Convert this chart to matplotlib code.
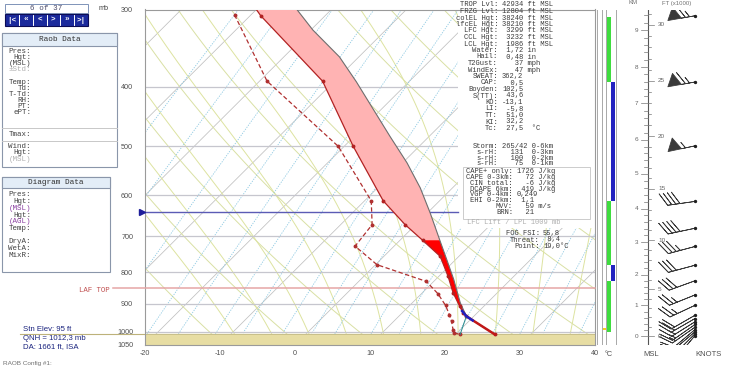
import numpy as np
import matplotlib.pyplot as plt
from matplotlib.patches import Rectangle
from matplotlib.lines import Line2D
from matplotlib.transforms import Affine2D
from matplotlib.ticker import NullLocator

plt.rcParams['font.family'] = ['Liberation Sans', 'DejaVu Sans']
MONO = ['Liberation Mono', 'DejaVu Sans Mono']

# ---------------- sounding data (mb, deg C) ----------------
TEMP_P = [300, 307, 392, 500, 613, 670, 710, 754, 812, 864, 909, 931, 943, 1009]
TEMP_C = [-50.0, -48.6, -31.6, -18.8, -7.5, -1.4, 3.0, 7.5, 11.2, 14.1, 16.8, 18.1, 19.0, 25.2]

DEWP_P = [306, 392, 500, 613, 670, 726, 778, 828, 867, 906, 937, 961, 991, 1004, 1009]
DEWP_C = [-52.2, -39.0, -20.8, -9.1, -5.8, -5.2, 0.2, 9.0, 12.2, 14.8, 16.5, 17.7, 19.0, 19.6, 20.6]

PARCEL_P = [300, 324, 358, 393, 436, 482, 532, 584, 641, 710, 763, 822, 897, 943]
PARCEL_C = [-44.6, -39.7, -32.6, -27.0, -21.0, -15.2, -9.4, -4.3, 0.35, 5.3, 8.8, 12.4, 16.4, 19.0]

SFC_P = 1009
LCL_P = 943
FRZG_P = 638
LAF_TOP_P = 850

ISOBARS = [400, 500, 600, 700, 800, 900, 1000]
P_TICKS = [300, 400, 500, 600, 700, 800, 900, 1000, 1050]
T_TICKS = [-20, -10, 0, 10, 20, 30, 40]

ISOTHERMS = list(range(-110, 50, 10))
THETA_K = list(range(250, 480, 10))
THETA_W = [-10, -5, 0, 5, 10, 15, 20, 25, 30, 35]
MIXR = [0.1, 0.2, 0.4, 0.7, 1, 1.5, 2, 3, 4, 5, 7, 9, 12, 15, 20, 25, 30, 40]

# layer column at right of diagram
LAYER_TOP = [308, 393, 614, 778, 828]
LAYER_BOT = [393, 614, 778, 828, 1002]
LAYER_COL = ['#3fdc3f', '#2323c0', '#3fdc3f', '#2323c0', '#3fdc3f']

# height scale: km marks vs pressure
KM_MARKS = [0, 1, 2, 3, 4, 5, 6, 7, 8, 9]
KM_P = [1016, 906, 807, 715, 631, 554, 488, 426, 372, 324]

# winds
WIND_KFT = [30.8, 24.9, 19.1, 13.8, 11.2, 9.4, 7.5, 5.9, 4.4, 3.3,
            2.24, 1.89, 1.54, 1.25, 0.96, 0.71, 0.47, 0.26, 0.07]
WIND_DIR = [260, 260, 258, 262, 258, 255, 255, 250, 248, 245,
            240, 240, 238, 235, 235, 230, 230, 225, 220]
WIND_KT = [65, 65, 55, 40, 40, 35, 30, 30, 25, 25,
           20, 20, 15, 15, 15, 10, 10, 10, 5]

INDEX_ROWS = [("TROP Lvl:", "42934 ft MSL"), ("FRZG Lvl:", "12804 ft MSL"),
              ("colEL Hgt:", "38240 ft MSL"), ("lfcEL Hgt:", "38210 ft MSL"),
              ("LFC Hgt:", " 3299 ft MSL"), ("CCL Hgt:", " 3232 ft MSL"),
              ("LCL Hgt:", " 1986 ft MSL"), ("Water:", " 1,72 in"),
              ("Hail:", " 0,48 in"), ("T2Gust:", "   37 mph"),
              ("WindEx:", "   47 mph"), ("SWEAT:", "362,2"), ("CAP:", "  0,5"),
              ("Boyden:", "102,5"), ("S(TT):", " 43,6"), ("KO:", "-13,1"),
              ("LI:", " -5,8"), ("TT:", " 51,0"), ("KI:", " 32,2"),
              ("Tc:", " 27,5  \u00b0C")]
STORM_ROWS = [("Storm:", "265/42 0-6km"), ("s-rH:", "  131  0-3km"),
              ("s-rH:", "  100  0-2km"), ("s-rH:", "   75  0-1km")]
CAPE_ROWS = [("CAPE+ only:", "1726 J/kg"), ("CAPE 0-3km:", "  72 J/kg"),
             ("CIN total:", "  -6 J/kg"), ("DCAPE 6km:", " 419 J/kg"),
             ("VGP 0-4km:", "0,249"), ("EHI 0-2km:", " 1,1"),
             ("MVV:", "  59 m/s"), ("BRN:", "  21")]
FOG_ROWS = [("FOG FSI:", "55,8"), ("Threat:", " 8,4"), ("Point:", "19,0\u00b0C")]

RAOB_LABELS = ["Pres:", "Hgt:", "(MSL)", "\u00b1Std:", "Temp:", "Td:", "T-Td:",
               "RH:", "PT:", "ePT:"]
RAOB_ROW_Y = [51.7, 57.7, 63.7, 69.7, 82.0, 88.0, 94.0, 100.0, 106.0, 112.0]
DIAG_LABELS = ["Pres:", "Hgt:", "(MSL)", "Hgt:", "(AGL)", "Temp:", "", "DryA:",
               "WetA:", "MixR:"]

# ---------------- figure ----------------
W, H = 732, 370
fig = plt.figure(figsize=(W / 100, H / 100), dpi=100)
pix = Affine2D().scale(1.0 / W, -1.0 / H).translate(0, 1) + fig.transFigure

SKEW = 35.8
P_BOT = 1050.0


def skew(t, p):
    return np.asarray(t, float) + SKEW * np.log(P_BOT / np.asarray(p, float))


def px_axes(x0, y0, x1, y1):
    return fig.add_axes([x0 / W, 1 - y1 / H, (x1 - x0) / W, (y1 - y0) / H])


def moist(t0, plev):
    T = t0 + 273.15
    out = [T]
    for p0, p1 in zip(plev[:-1], plev[1:]):
        es = 6.112 * np.exp(17.67 * (T - 273.15) / (T - 29.65))
        rs = 0.622 * es / (p0 - es)
        dtdp = (287.0 * T + 2.5e6 * rs) / (1004.0 + 2.5e6 ** 2 * rs * 0.622 / (287.0 * T * T)) / p0
        T = T + dtdp * (p1 - p0)
        out.append(T)
    return np.array(out) - 273.15


ax = px_axes(145, 9.5, 595, 345)
ax.set_yscale('log')
ax.set_xlim(-20, 40)
ax.set_ylim(1050, 300)

pp = np.geomspace(300, 1050, 80)
for t in ISOTHERMS:
    ax.plot(skew([t, t], [300, 1050]), [300, 1050], color='#c0c0c0', lw=0.55, zorder=1)
for th in THETA_K:
    ax.plot(skew(th * (pp / 1000.0) ** 0.2857 - 273.15, pp), pp, color='#d9e0a4', lw=0.7, zorder=1)
up = np.arange(1000, 295, -5.0)
dn = np.arange(1000, 1055, 5.0)
for tw in THETA_W:
    ax.plot(skew(moist(tw, up), up), up, color='#dde3a0', lw=0.7, zorder=1)
    ax.plot(skew(moist(tw, dn), dn), dn, color='#dde3a0', lw=0.7, zorder=1)
for w in MIXR:
    e = w * pp / (622.0 + w)
    le = np.log(e / 6.112)
    td = 243.5 * le / (17.67 - le)
    ax.plot(skew(td, pp), pp, color='#8ec9e2', lw=0.6, ls=(0, (1.5, 1.5)), zorder=1)

for p in ISOBARS:
    ax.axhline(p, color='#c6c6ce', lw=0.9, zorder=1.5)

# ground
ax.axhspan(SFC_P, 1050, color='#e7dda3', zorder=2)
ax.axhline(SFC_P, color='#c9c08a', lw=0.7, zorder=2)
ax.plot([(20 - 295) / 7.5, -20], [SFC_P, SFC_P], color='#bdb27a', lw=0.8, clip_on=False)

# white panel behind index text
ax.add_patch(Rectangle((458, 9.5), 137, 218.5, transform=pix, fc='white', ec='none', zorder=2.5))

# special lines
ax.plot([-20, (458 - 295) / 7.5], [FRZG_P, FRZG_P], color='#5b5bb5', lw=1.0, zorder=2.6)
ax.plot([-20.35], [FRZG_P], marker='>', ms=3.8, color='#1e1e9a', clip_on=False, zorder=6)
ax.plot([(113 - 295) / 7.5, 40], [LAF_TOP_P, LAF_TOP_P], color='#e5a5a5', lw=1.1,
        clip_on=False, zorder=2.6)

# CAPE shading
tp = np.array(TEMP_P, float)
tc = np.array(TEMP_C, float)
pp_ = np.array(PARCEL_P, float)
pc = np.array(PARCEL_C, float)
m_env = tp <= 710
m_par = pp_ <= 710
ax.fill(np.concatenate([skew(tc[m_env], tp[m_env]), skew(pc[m_par], pp_[m_par])[::-1]]),
        np.concatenate([tp[m_env], pp_[m_par][::-1]]), color='#ffb3b3', lw=0, zorder=3)
m_env = (tp >= 710) & (tp <= LCL_P)
m_par = (pp_ >= 710) & (pp_ <= LCL_P)
ax.fill(np.concatenate([skew(tc[m_env], tp[m_env]), skew(pc[m_par], pp_[m_par])[::-1]]),
        np.concatenate([tp[m_env], pp_[m_par][::-1]]), color='#ff0000', lw=0, zorder=3)
ax.plot(skew(pc, pp_), pp_, color='#6e6e6e', lw=0.8, zorder=3.5)

# traces
ax.plot(skew(tc, tp), tp, color='#b22222', lw=0.9, zorder=4)
ax.plot(skew(tc[1:], tp[1:]), tp[1:], 'o', color='#b22222', ms=1.8, zorder=4)
m_bl = tp >= LCL_P
ax.plot(skew(tc[m_bl], tp[m_bl]), tp[m_bl], color='#c01818', lw=1.8, zorder=4.2)
dp = np.array(DEWP_P, float)
dc = np.array(DEWP_C, float)
ax.plot(skew(dc, dp), dp, color='#b03030', lw=0.9, ls=(0, (3.5, 2)), zorder=4)
ax.plot(skew(dc, dp), dp, 'o', color='#b03030', ms=1.8, zorder=4)
ax.plot(skew([DEWP_C[-1], TEMP_C[TEMP_P.index(LCL_P)]], [SFC_P, LCL_P]), [SFC_P, LCL_P],
        color='#2a8a8a', lw=0.7, zorder=4.3)
ax.plot(skew(np.interp([925, 943, 958], tp, tc), [925, 943, 958]), [925, 943, 958],
        color='#2020c0', lw=1.8, zorder=4.4)

ax.set_yticks(P_TICKS)
ax.set_yticklabels([str(p) for p in P_TICKS])
ax.yaxis.set_minor_locator(NullLocator())
ax.set_xticks(T_TICKS)
ax.set_xticklabels([str(t) for t in T_TICKS])
ax.tick_params(axis='y', length=0, pad=8.5, labelsize=5.2, labelcolor='#505050')
ax.tick_params(axis='x', length=0, pad=3.5, labelsize=5.2, labelcolor='#505050')
for s in ax.spines.values():
    s.set_color('#9a9a9a')
    s.set_linewidth(0.8)

# ---------------- right layer column ----------------
ax_s = px_axes(595, 9.5, 617, 345)
ax_s.set_yscale('log')
ax_s.set_ylim(1050, 300)
ax_s.set_xlim(595, 617)
ax_s.axis('off')
for x in [596.5, 601.5, 606.0, 616.0]:
    ax_s.axvline(x, color='#a8a8a8', lw=0.7)
for top, bot, col in zip(LAYER_TOP, LAYER_BOT, LAYER_COL):
    x0 = 606.5 if col != '#2323c0' else 610.5
    ax_s.bar(x0 + 2.0, bot - top, bottom=top, width=4.0, color=col, lw=0)
ax_s.bar(604.0, 8, bottom=985, width=3.5, color='#f2d020', lw=0)

# ---------------- height scale and winds ----------------
def km_to_p(km):
    km = np.asarray(km, float)
    lp = np.log(KM_P)
    out = np.interp(km, KM_MARKS, lp)
    slope = (lp[-1] - lp[-2]) / (KM_MARKS[-1] - KM_MARKS[-2])
    out = np.where(km > KM_MARKS[-1], lp[-1] + slope * (km - KM_MARKS[-1]), out)
    return np.exp(out)


ax_h = px_axes(617, 9.5, 732, 345)
ax_h.set_yscale('log')
ax_h.set_ylim(1050, 300)
ax_h.set_xlim(617, 732)
ax_h.axis('off')
ax_h.axvline(648, color='#555555', lw=0.8)
for km in np.arange(0, 9.41, 0.2):
    p = km_to_p(km)
    major = abs(km - round(km)) < 1e-6
    ax_h.plot([641 if major else 644, 648], [p, p], color='#777777', lw=0.5)
    if major:
        ax_h.text(638.5, p, str(int(round(km))), ha='right', va='center', fontsize=4.6,
                  color='#666666')
for kft in range(0, 32):
    p = km_to_p(kft * 0.3048)
    ax_h.plot([648, 654 if kft % 5 == 0 else 651], [p, p], color='#777777', lw=0.5)
    if kft % 5 == 0:
        ax_h.text(658, p, str(kft), ha='left', va='center', fontsize=4.6, color='#666666')

wp = km_to_p(np.array(WIND_KFT) * 0.3048)
wd = np.radians(WIND_DIR)
ws = np.array(WIND_KT, float)
ax_h.barbs(np.full(len(wp), 695.0), wp, -ws * np.sin(wd), -ws * np.cos(wd), length=6.3,
           pivot='tip', color='#3a3a3a', linewidth=0.55,
           sizes=dict(spacing=0.15, height=0.45, width=0.5, emptybarb=0.0))
ax_h.plot(np.full(len(wp), 695.0), wp, 'o', color='#202020', ms=1.4)

# ---------------- labels around ----------------
def ptext(x, y, s, **kw):
    kw.setdefault('va', 'center')
    fig.text(x, y, s, transform=pix, **kw)


ptext(104, 9, "mb", ha='center', fontsize=5.2, color='#404040')
ptext(609, 354, "\u00b0C", ha='center', fontsize=5.2, color='#505050')
ptext(651, 354, "MSL", ha='center', fontsize=5.5, color='#505050')
ptext(709, 354, "KNOTS", ha='center', fontsize=5.5, color='#505050')
ptext(633, 3, "KM", ha='center', fontsize=4.3, color='#707070')
ptext(677, 3, "FT (x1000)", ha='center', fontsize=4.3, color='#707070')
ptext(110, 290, "LAF TOP", ha='right', fontsize=5.3, color='#c05050', family=MONO)
ptext(23, 329.5, "Stn Elev: 95 ft", ha='left', fontsize=5.6, color='#1a237e')
ptext(23, 338.5, "QNH = 1012,3 mb", ha='left', fontsize=5.6, color='#1a237e')
ptext(23, 346.5, "DA: 1661 ft, ISA", ha='left', fontsize=5.6, color='#1a237e')
ptext(3, 364, "RAOB Config #1:", ha='left', fontsize=4.6, color='#707070')

# index text block
TXT = '#3a3a3a'
for i, (lab, val) in enumerate(INDEX_ROWS):
    y = 5 + i * 6.5
    ptext(498, y, lab, ha='right', fontsize=5.1, color=TXT, family=MONO)
    ptext(502, y, val, ha='left', fontsize=5.1, color=TXT, family=MONO)
for i, (lab, val) in enumerate(STORM_ROWS):
    y = 146.7 + i * 5.7
    ptext(498, y, lab, ha='right', fontsize=5.1, color=TXT, family=MONO)
    ptext(502, y, val, ha='left', fontsize=5.1, color=TXT, family=MONO)
fig.add_artist(Rectangle((463, 166.5), 127, 52, transform=pix, fc='none', ec='#cccccc', lw=0.7))
for i, (lab, val) in enumerate(CAPE_ROWS):
    y = 171.5 + i * 5.85
    ptext(513, y, lab, ha='right', fontsize=5.1, color=TXT, family=MONO)
    ptext(517, y, val, ha='left', fontsize=5.1, color=TXT, family=MONO)
ptext(467, 223, "LFC Lift / LPL 1009 mb", ha='left', fontsize=5.1, color='#b0b0b0', family=MONO)
for i, (lab, val) in enumerate(FOG_ROWS):
    y = 233.3 + i * 6.7
    ptext(540, y, lab, ha='right', fontsize=5.1, color=TXT, family=MONO)
    ptext(543, y, val, ha='left', fontsize=5.1, color=TXT, family=MONO)

# ---------------- left panels ----------------
fig.add_artist(Rectangle((5, 4), 83, 9, transform=pix, fc='white', ec='#7f93b8', lw=0.7))
ptext(46.5, 8.5, "6 of 37", ha='center', fontsize=5.5, color='#4a4a6a', family=MONO)
nav = ['|<', '\u00ab', '<', '>', '\u00bb', '>|']
bw = 83 / len(nav)
for i, s in enumerate(nav):
    fig.add_artist(Rectangle((5 + i * bw, 14), bw, 12, transform=pix, fc='#1b2a9c',
                             ec='white', lw=0.7))
    ptext(5 + (i + 0.5) * bw, 20, s, ha='center', fontsize=5.5, color='white',
          fontweight='bold', family=MONO)
fig.add_artist(Rectangle((5, 14), 83, 12, transform=pix, fc='none', ec='#0b0b55', lw=0.8))

# Raob Data
fig.add_artist(Rectangle((2, 33), 115, 133.5, transform=pix, fc='white', ec='#8a96aa', lw=0.8))
fig.add_artist(Rectangle((2, 33), 115, 13, transform=pix, fc='#e3edf7', ec='#8a96aa', lw=0.8))
ptext(59.5, 39.8, "Raob Data", ha='center', fontsize=5.6, color='#303030', family=MONO)
for lab, y in zip(RAOB_LABELS, RAOB_ROW_Y):
    col = '#b0b0b0' if lab.startswith('\u00b1') else '#404040'
    ptext(31, y, lab, ha='right', fontsize=5.4, color=col, family=MONO)
for y in [127.7, 140.5]:
    fig.add_artist(Line2D([2, 117], [y, y], transform=pix, color='#c8c8c8', lw=0.7))
ptext(31, 134.2, "Tmax:", ha='right', fontsize=5.4, color='#404040', family=MONO)
ptext(31, 147, "Wind:", ha='right', fontsize=5.4, color='#404040', family=MONO)
ptext(31, 153, "Hgt:", ha='right', fontsize=5.4, color='#404040', family=MONO)
ptext(31, 159.3, "(MSL)", ha='right', fontsize=5.4, color='#b0b0b0', family=MONO)

# Diagram Data
fig.add_artist(Rectangle((2, 176.7), 108, 95, transform=pix, fc='white', ec='#8a96aa', lw=0.8))
fig.add_artist(Rectangle((2, 176.7), 108, 11.6, transform=pix, fc='#e3edf7', ec='#8a96aa', lw=0.8))
ptext(56, 182.3, "Diagram Data", ha='center', fontsize=5.6, color='#303030', family=MONO)
for i, lab in enumerate(DIAG_LABELS):
    col = '#8a3fa0' if lab.startswith('(') else '#404040'
    ptext(31, 195 + i * 6.67, lab, ha='right', fontsize=5.4, color=col, family=MONO)

fig.savefig('out.png', dpi=100)
